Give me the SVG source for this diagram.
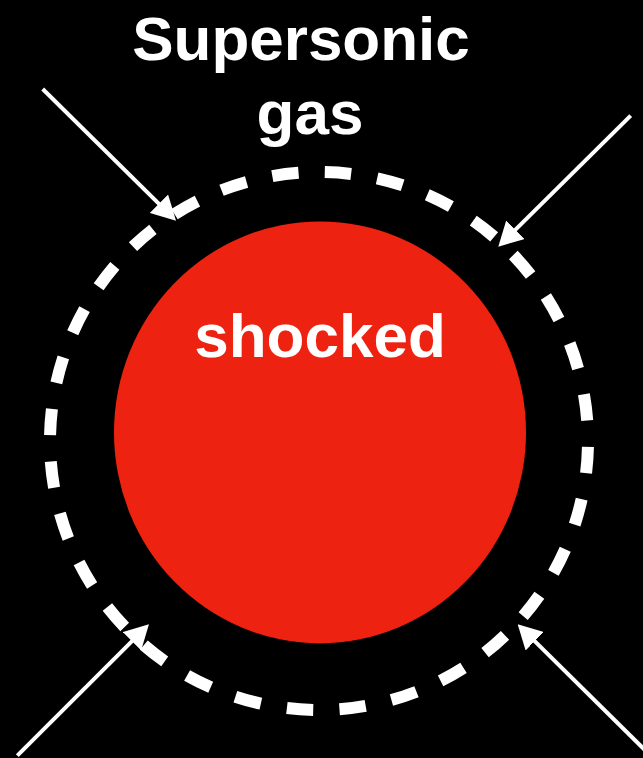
<svg xmlns="http://www.w3.org/2000/svg" width="643" height="758" viewBox="0 0 643 758">
  <style>
    .lbl { font-family: "Liberation Sans", Arial, Helvetica, sans-serif; font-weight: bold; font-size: 62px; fill: #ffffff; text-anchor: middle; }
    .arrow { stroke: #ffffff; stroke-width: 4; fill: none; marker-end: url(#head); }
  </style>
  <defs>
    <marker id="head" viewBox="0 0 24 26" refX="4" refY="13" markerWidth="24" markerHeight="26" markerUnits="userSpaceOnUse" orient="auto">
      <path d="M0,0 L24,13 L0,26 z" fill="#ffffff"/>
    </marker>
  </defs>
  <rect x="0" y="0" width="643" height="758" fill="#000000"/>
  <g id="shock-front">
    <path d="M319,172 A269,269 0 1,1 319,710 A269,269 0 1,1 319,172" fill="none" stroke="#ffffff" stroke-width="12" pathLength="1728" stroke-dasharray="27 27" stroke-dashoffset="48"/>
  </g>
  <g id="shocked">
    <ellipse cx="320" cy="432.4" rx="206" ry="211" fill="#EE2210"/>
    <text class="lbl" x="320" y="357">shocked</text>
  </g>
  <g id="supersonic-gas">
    <text class="lbl" x="301" y="60">Supersonic</text>
    <text class="lbl" x="310" y="134">gas</text>
  </g>
  <g id="connectors">
    <line class="arrow" x1="42.7" y1="89" x2="161.8" y2="206.6"/>
    <line class="arrow" x1="630.7" y1="115.7" x2="512.5" y2="232.6"/>
    <line class="arrow" x1="17.3" y1="755.7" x2="134.8" y2="638.4"/>
    <line class="arrow" x1="652" y1="757" x2="531.9" y2="638.4"/>
  </g>
</svg>
